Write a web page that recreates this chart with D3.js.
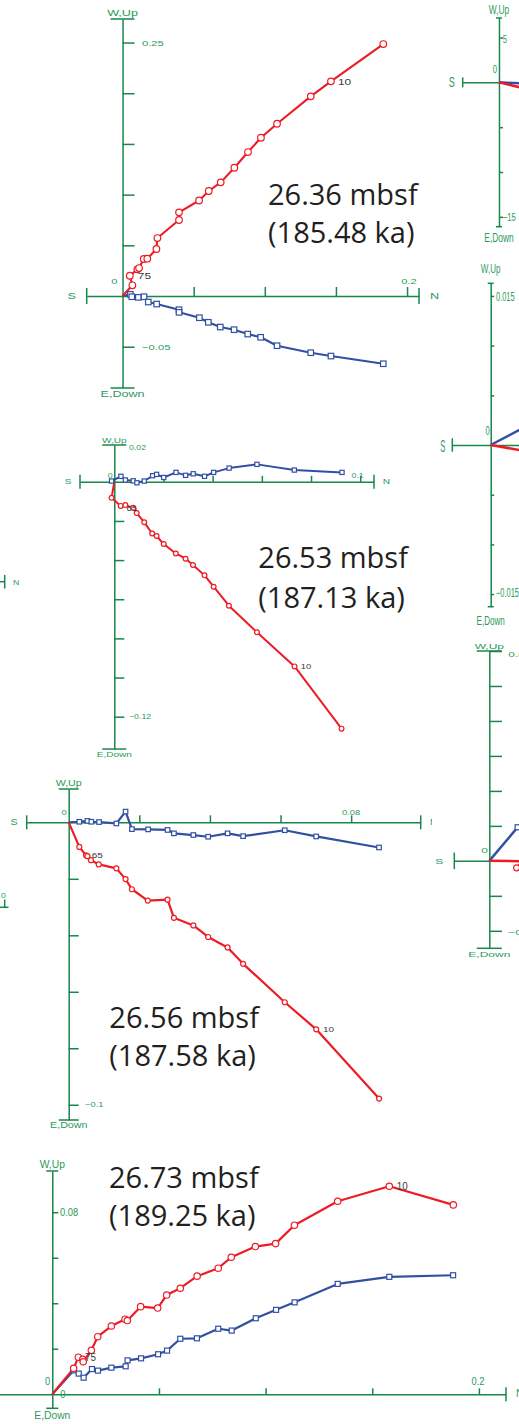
<!DOCTYPE html>
<html>
<head>
<meta charset="utf-8">
<script src="https://cdn.jsdelivr.net/npm/d3@7"></script>
<style>
  body { margin: 0; background: #fff; }
  svg { display: block; }
</style>
</head>
<body>
<svg id="chart"></svg>
<script>
// ---- data: [N, Up] for red (vertical proj.), [N, W] for blue (horizontal proj.)
const p1Title = ['26.36 mbsf', '(185.48 ka)'];
const p1Red = [[0,0],[0.0069,0.0106],[0.0051,0.0200],[0.0104,0.0263],[0.0116,0.0276],[0.0149,0.0365],[0.0174,0.0368],[0.0238,0.0464],[0.0245,0.0572],[0.0397,0.0750],[0.0397,0.0825],[0.0538,0.0942],[0.0606,0.1036],[0.0690,0.1121],[0.0786,0.1265],[0.0882,0.1420],[0.0973,0.1561],[0.1086,0.1699],[0.1323,0.1969],[0.1465,0.2117],[0.1833,0.2485]];
const p1Blue = [[0,0],[0.0055,0.0017],[0.0065,-0.0007],[0.0111,-0.0013],[0.0151,-0.0007],[0.0181,-0.0059],[0.0240,-0.0079],[0.0397,-0.0135],[0.0397,-0.0161],[0.0540,-0.0214],[0.0603,-0.0259],[0.0687,-0.0306],[0.0784,-0.0332],[0.0880,-0.0375],[0.0971,-0.0407],[0.1086,-0.0490],[0.1323,-0.0559],[0.1465,-0.0592],[0.1833,-0.0668]];
const p1XTicks = [0.05, 0.1, 0.15, 0.2];
const p1YTicks = [0.25, 0.2, 0.15, 0.1, 0.05, -0.05];
const p1XLabels = [[0.2, '0.2']];
const p1YLabels = [[0.25, '0.25'], [-0.05, '\u22120.05']];
const p1Steps = [[19, '10'], [2, '75']];

const p2Title = ['26.53 mbsf', '(187.13 ka)'];
const p2Red = [[0,0],[-0.0011,-0.0082],[0.0026,-0.0123],[0.0045,-0.0119],[0.0077,-0.0133],[0.0091,-0.0160],[0.0122,-0.0207],[0.0154,-0.0264],[0.0172,-0.0277],[0.0201,-0.0318],[0.0250,-0.0366],[0.0290,-0.0393],[0.0320,-0.0425],[0.0367,-0.0478],[0.0404,-0.0536],[0.0466,-0.0633],[0.0580,-0.0769],[0.0733,-0.0943],[0.0924,-0.1261]];
const p2Blue = [[0,0],[-0.0011,0.0004],[0.0027,0.0028],[0.0045,0.0009],[0.0077,0.0005],[0.0092,-0.0005],[0.0122,0.0004],[0.0156,0.0031],[0.0172,0.0038],[0.0201,0.0022],[0.0251,0.0048],[0.0290,0.0033],[0.0321,0.0041],[0.0367,0.0028],[0.0404,0.0048],[0.0467,0.0070],[0.0580,0.0089],[0.0732,0.0060],[0.0926,0.0048]];
const p2XTicks = [0.02, 0.04, 0.06, 0.08, 0.1];
const p2YTicks = [-0.02, -0.04, -0.06, -0.08, -0.1, -0.12];
const p2XLabels = [[0.1, '0.1']];
const p2YLabels = [[0.02, '0.02'], [-0.12, '\u22120.12']];
const p2Steps = [[4, '65'], [17, '10']];

const p3Title = ['26.56 mbsf', '(187.58 ka)'];
const p3Red = [[0,0],[0.0030,-0.0087],[0.0049,-0.0117],[0.0053,-0.0120],[0.0063,-0.0134],[0.0085,-0.0149],[0.0135,-0.0163],[0.0161,-0.0201],[0.0179,-0.0237],[0.0224,-0.0277],[0.0280,-0.0274],[0.0298,-0.0338],[0.0353,-0.0365],[0.0395,-0.0406],[0.0450,-0.0443],[0.0494,-0.0501],[0.0612,-0.0637],[0.0701,-0.0733],[0.0879,-0.0978]];
const p3Blue = [[0,0],[0.0030,0.0002],[0.0053,0.0005],[0.0064,0.0002],[0.0086,0.0001],[0.0135,-0.0004],[0.0161,0.0038],[0.0179,-0.0024],[0.0225,-0.0025],[0.0280,-0.0027],[0.0298,-0.0039],[0.0353,-0.0045],[0.0395,-0.0051],[0.0450,-0.0039],[0.0494,-0.0049],[0.0612,-0.0028],[0.0701,-0.0050],[0.0879,-0.0089]];
const p3XTicks = [0.02, 0.04, 0.06, 0.08];
const p3YTicks = [-0.02, -0.04, -0.06, -0.08, -0.1];
const p3XLabels = [[0.08, '0.08']];
const p3YLabels = [[-0.1, '\u22120.1']];
const p3Steps = [[2, '65'], [17, '10']];

const p4Title = ['26.73 mbsf', '(189.25 ka)'];
const p4Red = [[0,0],[0.0100,0.0114],[0.0122,0.0163],[0.0143,0.0154],[0.0145,0.0143],[0.0183,0.0193],[0.0213,0.0253],[0.0277,0.0300],[0.0341,0.0330],[0.0352,0.0324],[0.0414,0.0385],[0.0494,0.0379],[0.0536,0.0436],[0.0600,0.0466],[0.0679,0.0519],[0.0778,0.0554],[0.0839,0.0602],[0.0952,0.0649],[0.1047,0.0662],[0.1135,0.0743],[0.1338,0.0848],[0.1580,0.0914],[0.1880,0.0832]];
const p4Blue = [[0,0],[0.0100,0.0105],[0.0124,0.0091],[0.0147,0.0073],[0.0186,0.0111],[0.0214,0.0104],[0.0277,0.0117],[0.0344,0.0123],[0.0353,0.0149],[0.0416,0.0158],[0.0496,0.0176],[0.0538,0.0192],[0.0600,0.0244],[0.0678,0.0246],[0.0778,0.0288],[0.0841,0.0280],[0.0954,0.0334],[0.1049,0.0371],[0.1136,0.0404],[0.1338,0.0485],[0.1580,0.0516],[0.1879,0.0523]];
const p4XTicks = [0.05, 0.1, 0.15, 0.2];
const p4YTicks = [0.02, 0.04, 0.06, 0.08];
const p4XLabels = [[0.2, '0.2']];
const p4YLabels = [[0.08, '0.08']];
const p4Steps = [[21, '10'], [2, '75']];

// cut-off plots on the right edge
const pARed = [[0,0],[4,-0.95]];
const pABlue = [[0,0],[4,-0.19]];
const pAYTicks = [5, -5, -10, -15];
const pAYLabels = [[5, '5'], [-15, '\u221215']];

const pBRed = [[0,0],[0.004,-0.0007]];
const pBBlue = [[0,0],[0.004,0.0021]];
const pBYTicks = [0.015, 0.01, 0.005, -0.005, -0.01, -0.015];
const pBYLabels = [[0.015, '0.015'], [-0.015, '\u22120.015']];

const pCRed = [[0,0],[0.0095,-0.0001],[0.0078,-0.002],[0.011,-0.0025]];
const pCBlue = [[0,0],[0.0081,0.0096],[0.011,0.0125]];
const pCYTicks = [0.06, 0.05, 0.04, 0.03, 0.02, 0.01, -0.01, -0.02];
const pCYLabels = [[0.06, '0.06'], [-0.02, '\u22120.02']];

const AX = '#17874a';
const LAB = '#2c9a5c';
const RED = '#ed1c24';
const BLUE = '#3150a2';
const FONT = "'Liberation Sans', Arial, sans-serif";

const svg = d3.select('#chart').attr('width', 519).attr('height', 1424);
svg.append('rect').attr('width', 519).attr('height', 1424).attr('fill', '#fff');

function label(g, x, y, txt, o) {
  return g.append('text')
    .attr('transform', `translate(${x},${y}) scale(${o.sx || 1},1)`)
    .attr('text-anchor', o.anchor || 'start')
    .attr('font-family', FONT)
    .attr('font-size', o.size)
    .attr('fill', o.fill || LAB)
    .text(txt);
}

function drawPanel(p) {
  const g = svg.append('g');
  if (p.bg) {
    g.append('rect').attr('x', p.bg[0]).attr('y', p.bg[1])
      .attr('width', p.bg[2]).attr('height', p.bg[3]).attr('fill', '#fff');
  }
  const x = d3.scaleLinear().domain(p.xDom).range(p.xRange);
  const y = d3.scaleLinear().domain(p.yDom).range(p.yRange);
  const ox = x(0), oy = y(0);

  const xAxis = d3.axisTop(x).tickValues(p.xTicks || []).tickSize(p.hTick || 0)
    .tickSizeOuter(0).tickFormat('');
  const yAxis = d3.axisRight(y).tickValues(p.yTicks || []).tickSize(p.vTick)
    .tickSizeOuter(0).tickFormat('');

  const gx = g.append('g').attr('transform', `translate(0,${oy})`).call(xAxis);
  const gy = g.append('g').attr('transform', `translate(${ox},0)`).call(yAxis);
  [gx, gy].forEach((a) => {
    a.selectAll('path, line').attr('stroke', AX).attr('stroke-width', 1.5);
  });

  // end caps
  const caps = g.append('g').attr('stroke', AX).attr('stroke-width', 1.5);
  [p.yRange[0], p.yRange[1]].forEach((yy) => {
    caps.append('line').attr('x1', ox - p.capV).attr('x2', ox + p.capV)
      .attr('y1', yy).attr('y2', yy);
  });
  [p.xRange[0], p.xRange[1]].forEach((xx) => {
    caps.append('line').attr('x1', xx).attr('x2', xx)
      .attr('y1', oy - p.capH).attr('y2', oy + p.capH);
  });

  // axis names
  const ax = { size: p.fa, sx: p.sx };
  label(g, ox, p.yRange[0] + p.wUpDy, 'W,Up', { ...ax, anchor: 'middle' });
  label(g, ox, p.yRange[1] + p.eDownDy, 'E,Down', { ...ax, anchor: 'middle' });
  if (p.sDx !== undefined) {
    label(g, p.xRange[0] + p.sDx, oy + p.sDy, 'S',
      { size: p.fS || p.fa, sx: p.sxS || p.sx, anchor: 'middle' });
  }
  if (p.nDx !== undefined) {
    label(g, p.xRange[1] + p.nDx, oy + p.sDy, 'N', ax);
  }

  // tick labels
  const tk = { size: p.fs, sx: p.sx };
  label(g, ox + p.zero[0], oy + p.zero[1], '0', { ...tk, anchor: 'end' });
  if (p.zero2) label(g, ox + p.zero2[0], oy + p.zero2[1], '0', tk);
  (p.xLabels || []).forEach(([v, t]) => {
    label(g, x(v) + p.xLabDx, oy + p.xLabDy, t, { ...tk, anchor: 'middle' });
  });
  (p.yLabels || []).forEach(([v, t], i) => {
    label(g, ox + p.yLabDx, y(v) + p.yLabDy[i], t, tk);
  });

  // data
  const line = d3.line().x((d) => x(d[0])).y((d) => y(d[1]));
  const series = [
    { data: p.blue, color: BLUE, shape: 'sq' },
    { data: p.red, color: RED, shape: 'ci' },
  ];
  series.forEach((s) => {
    g.append('path').datum(s.data).attr('d', line).attr('fill', 'none')
      .attr('stroke', s.color).attr('stroke-width', p.lw)
      .attr('stroke-linejoin', 'round');
  });
  if (p.markers) {
    series.forEach((s) => {
      const pts = s.data.slice(1);
      if (s.shape === 'ci') {
        g.selectAll(null).data(pts).enter().append('circle')
          .attr('cx', (d) => x(d[0])).attr('cy', (d) => y(d[1])).attr('r', p.r)
          .attr('fill', '#fff').attr('stroke', s.color).attr('stroke-width', 1.2);
      } else {
        g.selectAll(null).data(pts).enter().append('rect')
          .attr('x', (d) => x(d[0]) - p.sq / 2).attr('y', (d) => y(d[1]) - p.sq / 2)
          .attr('width', p.sq).attr('height', p.sq)
          .attr('fill', '#fff').attr('stroke', s.color).attr('stroke-width', 1.2);
      }
    });
  }
  (p.steps || []).forEach(([i, t], k) => {
    const d = p.red[i];
    label(g, x(d[0]) + p.stepOff[k][0], y(d[1]) + p.stepOff[k][1], t,
      { size: p.fStep, sx: p.sx, fill: '#3a3a3a' });
  });

  if (p.title) {
    const tt = g.append('text').attr('font-family', "'Open Sans', 'Noto Sans', sans-serif")
      .attr('font-size', 29).attr('fill', '#231f20');
    p.title.forEach((t, i) => {
      tt.append('tspan').attr('x', p.titlePos[0]).attr('y', p.titlePos[i + 1]).text(t);
    });
  }
}

const panels = [
  {
    red: p1Red, blue: p1Blue, xTicks: p1XTicks, yTicks: p1YTicks,
    xLabels: p1XLabels, yLabels: p1YLabels, steps: p1Steps, title: p1Title,
    xDom: [-0.0252, 0.2084], xRange: [86.7, 419], yDom: [0.2732, -0.0907], yRange: [19, 388],
    sx: 1.4, fs: 8, fa: 9, fStep: 8.5, vTick: 12, hTick: 9, capV: 12, capH: 8,
    r: 3.3, sq: 5.5, lw: 2.1, markers: true,
    wUpDy: -3, eDownDy: 9, sDx: -15, sDy: 3, nDx: 11,
    zero: [-5, -12], xLabDx: 2, xLabDy: -12, yLabDx: 19.5, yLabDy: [3, 3],
    stepOff: [[7, 3.5], [8, 3]], titlePos: [268, 204.5, 243.3],
  },
  {
    red: p2Red, blue: p2Blue, xTicks: p2XTicks, yTicks: p2YTicks,
    xLabels: p2XLabels, yLabels: p2YLabels, steps: p2Steps, title: p2Title,
    xDom: [-0.01394, 0.1056], xRange: [80, 374], yDom: [0.0188, -0.1365], yRange: [445, 749],
    sx: 1.256, fs: 7, fa: 8, fStep: 7.5, vTick: 10, hTick: 6, capV: 12, capH: 7,
    r: 2.4, sq: 4.2, lw: 2, markers: true,
    wUpDy: -2.5, eDownDy: 7.5, sDx: -12, sDy: 2.5, nDx: 8.7,
    zero: [-1.6, -4], xLabDx: -2.6, xLabDy: -4, yLabDx: 14.7, yLabDy: [7.5, 2.5],
    stepOff: [[-6.6, 3], [6.3, 3]], titlePos: [258.3, 568.3, 608],
  },
  {
    red: p3Red, blue: p3Blue, xTicks: p3XTicks, yTicks: p3YTicks,
    xLabels: p3XLabels, yLabels: p3YLabels, steps: p3Steps, title: p3Title,
    xDom: [-0.0119, 0.0997], xRange: [26.7, 420.7], yDom: [0.0118, -0.1054], yRange: [789, 1120],
    sx: 1.254, fs: 7.5, fa: 8.5, fStep: 8, vTick: 10, hTick: 7, capV: 10, capH: 7,
    r: 2.5, sq: 4.5, lw: 2.2, markers: true,
    wUpDy: -3, eDownDy: 8, sDx: -12.7, sDy: 2.5, nDx: 9.3,
    zero: [-2, -7.3], xLabDx: 0, xLabDy: -7.3, yLabDx: 16.3, yLabDy: [2.5],
    stepOff: [[5.7, 3], [6.7, 3]], titlePos: [109.3, 1028.3, 1065.7],
  },
  {
    red: p4Red, blue: p4Blue, xTicks: p4XTicks, yTicks: p4YTicks,
    xLabels: p4XLabels, yLabels: p4YLabels, steps: p4Steps, title: p4Title,
    xDom: [-0.03, 0.2127], xRange: [-11.7, 506], yDom: [0.0981, -0.00615], yRange: [1171, 1408.3],
    sx: 0.937, fs: 10, fa: 11, fStep: 10.5, vTick: 6, hTick: 6, capV: 6, capH: 7,
    r: 3.2, sq: 5, lw: 2.2, markers: true,
    wUpDy: -3.3, eDownDy: 11, sDy: 3, nDx: 10,
    zero: [-2, -9], zero2: [8, 4], xLabDx: -1, xLabDy: -9, yLabDx: 7.7, yLabDy: [3.5],
    stepOff: [[7.4, 3.5], [6.7, 4]], titlePos: [109, 1188, 1226],
  },
];
panels.forEach(drawPanel);

// bits of neighbouring plots poking in at the left edge
const edge = svg.append('g').attr('stroke', AX).attr('stroke-width', 1.5);
edge.append('line').attr('x1', 0).attr('x2', 4.7).attr('y1', 581.7).attr('y2', 581.7);
edge.append('line').attr('x1', 4.7).attr('x2', 4.7).attr('y1', 575).attr('y2', 588.5);
edge.append('line').attr('x1', 0).attr('x2', 8.5).attr('y1', 907.3).attr('y2', 907.3);
edge.append('line').attr('x1', 4.7).attr('x2', 4.7).attr('y1', 899.5).attr('y2', 907.3);
label(svg, 13, 584.5, 'N', { size: 7, sx: 1.25 });
label(svg, -1.5, 897.5, '.0', { size: 7, sx: 1.25 });

const rightPanels = [
  {
    red: pARed, blue: pABlue, yTicks: pAYTicks, yLabels: pAYLabels,
    xDom: [-4.05, 4], xRange: [462.7, 534.8], yDom: [7.18, -16.1], yRange: [18, 226.7],
    sx: 0.7, fs: 11, fa: 12, fS: 14, sxS: 0.65, vTick: 4, capV: 3, capH: 5, lw: 2.5,
    wUpDy: -4, eDownDy: 15, sDx: -11, sDy: 5,
    zero: [-2, -9], yLabDx: 3.7, yLabDy: [5, 4.3],
  },
  {
    red: pBRed, blue: pBBlue, yTicks: pBYTicks, yLabels: pBYLabels,
    xDom: [-0.00386, 0.004], xRange: [452.3, 530.5], yDom: [0.01627, -0.01627], yRange: [283.3, 606.7],
    sx: 0.62, fs: 12, fa: 13, fS: 17, sxS: 0.45, vTick: 3.5, capV: 3, capH: 6.7, lw: 2.5,
    wUpDy: -10.6, eDownDy: 18, sDx: -9.6, sDy: 6.7,
    zero: [-1, -10], yLabDx: 5.3, yLabDy: [5, 2.5],
  },
  {
    red: pCRed, blue: pCBlue, yTicks: pCYTicks, yLabels: pCYLabels,
    xDom: [-0.01, 0.01], xRange: [454.3, 524.3], yDom: [0.06, -0.025], yRange: [651, 948.3],
    sx: 1.5, fs: 8, fa: 8, vTick: 12.7, capV: 12.5, capH: 8.3, lw: 2.5,
    r: 3, sq: 5, markers: true,
    wUpDy: -2.3, eDownDy: 9, sDx: -15, sDy: 3,
    zero: [-1.5, -7.7], yLabDx: 19, yLabDy: [5.7, 3.7],
    bg: [432, 640, 87, 320],
  },
];
rightPanels.forEach(drawPanel);
</script>
</body>
</html>
